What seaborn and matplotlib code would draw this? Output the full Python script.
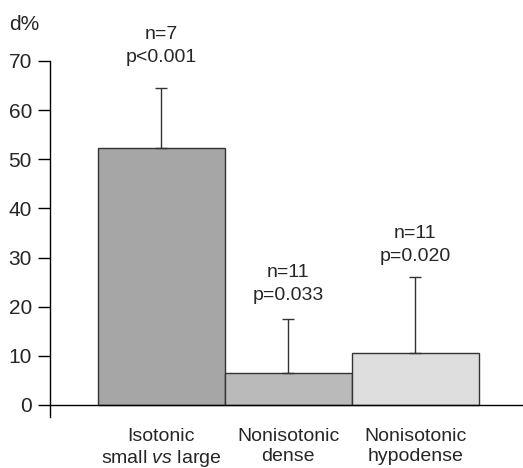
import numpy as np
import pandas as pd
import seaborn as sns
import matplotlib.pyplot as plt

# data
groups = ["Isotonic\nsmall $\\mathit{vs}$ large", "Nonisotonic\ndense", "Nonisotonic\nhypodense"]
mean_d = [52.3, 6.5, 10.6]
sd_d = [12.2, 11.0, 15.4]
n_cases = [7, 11, 11]
p_values = ["p<0.001", "p=0.033", "p=0.020"]

bar_colors = ["#a6a6a6", "#bababa", "#dedede"]

sns.set_style("white")
plt.rcParams['font.family'] = ['Liberation Sans', 'DejaVu Sans']
plt.rcParams['mathtext.fontset'] = 'custom'
plt.rcParams['mathtext.rm'] = 'Liberation Sans'
plt.rcParams['mathtext.it'] = 'Liberation Sans:italic'

df = pd.DataFrame({"group": groups, "d": mean_d})

fig = plt.figure(figsize=(5.23, 4.68), dpi=100)
ax = fig.add_axes([50 / 523, 1 - 417 / 468, 1 - 50 / 523, (417 - 61) / 468])

sns.barplot(data=df, x="group", y="d", hue="group", palette=bar_colors, legend=False,
            width=1.0, edgecolor="#333333", linewidth=1.0, ax=ax)

x = np.arange(len(groups))
ax.errorbar(x, mean_d, yerr=[np.zeros(len(sd_d)), sd_d], fmt="none",
            ecolor="#333333", elinewidth=1.0, capsize=4, capthick=1.0)

# label offsets above the error caps (points)
label_offsets = [30, 25, 23]
for xi, m, s, n, p, off in zip(x, mean_d, sd_d, n_cases, p_values, label_offsets):
    ax.annotate(f"n={n}\n{p}", xy=(xi, m + s), xytext=(0, off), textcoords="offset points",
                ha="center", va="center", fontsize=14, linespacing=1.45, annotation_clip=False)

ax.set_xlim(-0.875, 2.85)
ax.set_ylim(-2.45, 70)
ax.set_yticks(range(0, 71, 10))
ax.axhline(0, color="black", linewidth=1.0, clip_on=False)

for side in ["top", "right", "bottom"]:
    ax.spines[side].set_visible(False)
ax.spines["left"].set_color("black")
ax.spines["left"].set_linewidth(1.0)

ax.tick_params(axis="y", left=True, length=9, width=1.0, color="black", labelsize=15, pad=4)
ax.tick_params(axis="x", bottom=False, length=0, labelsize=14, pad=8)
for lbl in ax.get_xticklabels():
    lbl.set_linespacing(1.2)
ax.set_xlabel("")
ax.set_ylabel("")

fig.text(9 / 523, 1 - 24 / 468, "d%", fontsize=15, ha="left", va="center")

fig.savefig("out.png", dpi=100)
